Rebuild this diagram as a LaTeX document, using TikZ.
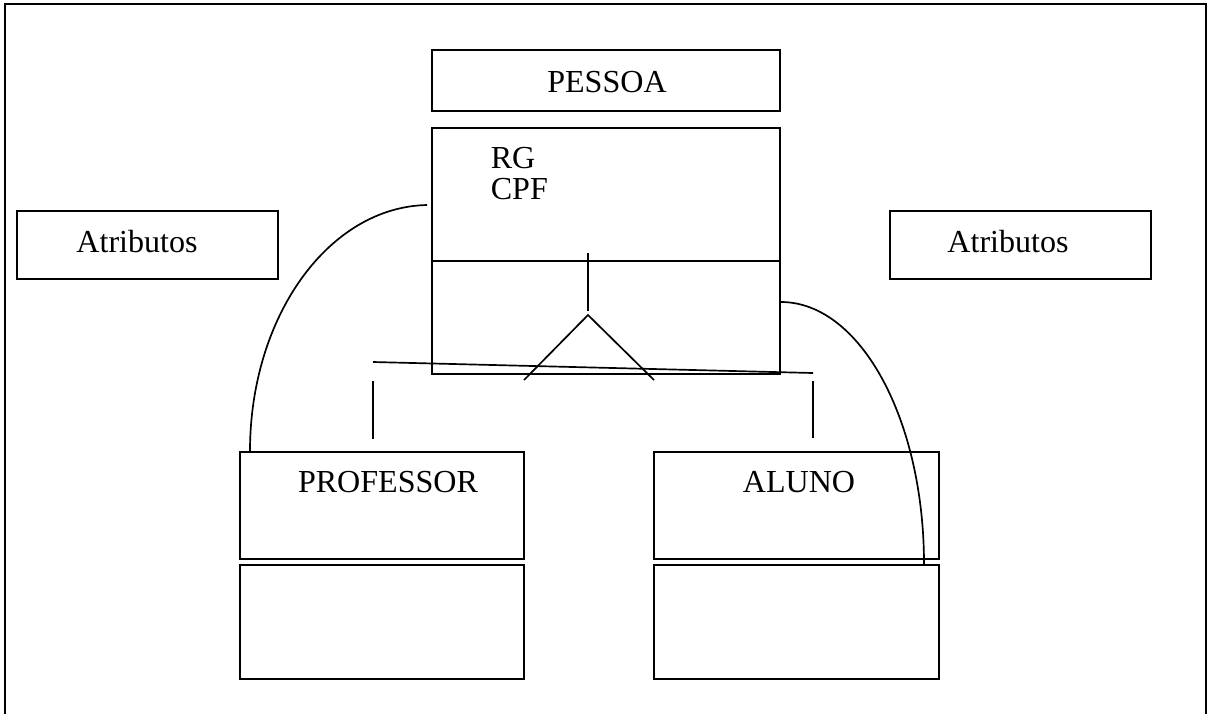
\documentclass[tikz,border=0pt]{standalone}
\usepackage{fontspec}
\setmainfont{Liberation Serif}
\usepackage{tikz}
\usetikzlibrary{positioning}

\begin{document}
\begin{tikzpicture}[x=0.025cm, y=-0.025cm, line width=1.2pt,
        box/.style={rectangle, draw, line width=1.2pt, inner sep=0pt},
        lbl/.style={font=\fontsize{22.8}{26}\selectfont, inner sep=0pt, anchor=base}]

        \useasboundingbox (0,0) rectangle (1208,713);
        \draw (5,720) -- (5,4) -- (1206,4) -- (1206,720);

        % classes
        \node[box, minimum width=8.7cm,   minimum height=1.525cm] (pessoa)   at (606,80.5)   {};
        \node[box, minimum width=8.7cm,   minimum height=6.15cm]  (corpo)    at (606,251)    {};
        \node[box, minimum width=6.525cm, minimum height=1.7cm]   (atrEsq)   at (147.5,245)  {};
        \node[box, minimum width=6.525cm, minimum height=1.7cm]   (atrDir)   at (1020.5,245) {};
        \node[box, minimum width=7.1cm,   minimum height=2.675cm] (prof)     at (382,505.5)  {};
        \node[box, minimum width=7.1cm,   minimum height=2.85cm]  (profOps)  at (382,622)    {};
        \node[box, minimum width=7.125cm, minimum height=2.675cm] (aluno)    at (796.5,505.5) {};
        \node[box, minimum width=7.125cm, minimum height=2.85cm]  (alunoOps) at (796.5,622)  {};

        % texts
        \node[lbl] (tPessoa) at (607,92) {PESSOA};
        \node[lbl, anchor=base west] (tRG)  at (490,168) {RG};
        \node[lbl, anchor=base west] (tCPF) at (490,199) {CPF};
        \node[lbl] (tAtrEsq) at (137,252)  {Atributos};
        \node[lbl] (tAtrDir) at (1008,252) {Atributos};
        \node[lbl] (tProf)   at (388,492)  {PROFESSOR};
        \node[lbl] (tAluno)  at (799,492)  {ALUNO};

        % divider
        \draw (corpo.west |- 0,261) -- (corpo.east |- 0,261);

        % generalization
        \coordinate (topo)   at (588,315);
        \coordinate (pEsq)   at (524,380);
        \coordinate (pDir)   at (654,380);
        \coordinate (hEsq)   at (373,362);
        \coordinate (hDir)   at (813,373);
        \draw (588,253) -- (588,311);
        \draw (pEsq) -- (topo) -- (pDir);
        \draw (hEsq) -- (hDir);
        \draw (373,381) -- (373,439);
        \draw (813,381) -- (813,438);

        % curves
        \coordinate (cEsq) at (427,205);
        \draw (cEsq) .. controls (329,207) and (250,316) .. (prof.north -| 250,0);
        \draw (corpo.east |- 0,302) .. controls (860,302) and (924,419) .. (alunoOps.north -| 924,0);
    \end{tikzpicture}
\end{document}
